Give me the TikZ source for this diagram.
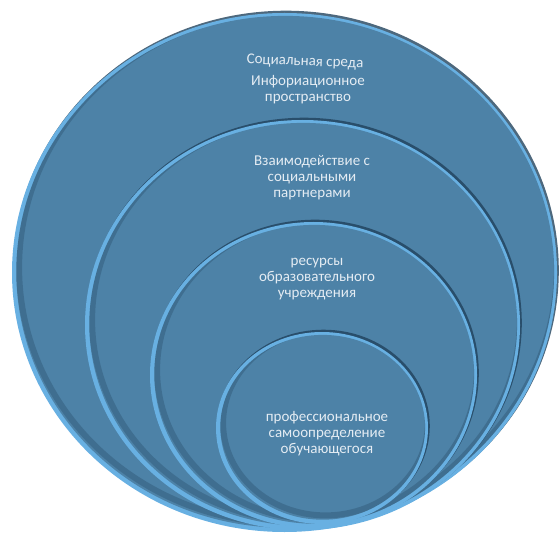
\documentclass[tikz,border=0pt]{standalone}
\usepackage{fontspec}
\setmainfont{Carlito}
\definecolor{basec}{RGB}{77,130,167}
\definecolor{rimc}{RGB}{104,176,226}
\definecolor{darkc}{RGB}{33,66,92}
\definecolor{txtc}{RGB}{228,236,243}
\newcommand\bevelEll[4]{%
  \fill[darkc,opacity=0.8] ({#1+1.5},{#2+2}) ellipse [x radius={(#3+0.3)*1pt}, y radius={(#4+0.3)*1pt}];
  \fill[rimc] (#1,#2) ellipse [x radius={#3*1pt}, y radius={#4*1pt}];
  \fill[basec] ({#1+0.7},{#2+0.7}) ellipse [x radius={(#3-3.6)*1pt}, y radius={(#4-3.6)*1pt}];
  \begin{scope}
    \clip ({#1+0.7},{#2+0.7}) ellipse [x radius={(#3-3.6)*1pt}, y radius={(#4-3.6)*1pt}];
    \draw[darkc,opacity=0.3,line width=6pt] ({#1+3.5},{#2+5}) ellipse [x radius={(#3-3.6)*1pt}, y radius={(#4-3.6)*1pt}];
  \end{scope}
}
\tikzset{lbl/.style={text=txtc, align=center, font=\fontsize{15}{16}\selectfont, inner sep=0pt}}
\begin{document}
\begin{tikzpicture}[x=1pt,y=1pt]
\useasboundingbox (0,0) rectangle (559,536);
\bevelEll{284.5}{263.5}{272.5}{259.5}
\bevelEll{302.5}{211}{217.5}{205}
\bevelEll{313.5}{161}{163.5}{153}
\bevelEll{322}{108}{106}{96}
\node[lbl, rotate=-2] (t1) at (305,474) {Социальная среда};
\node[lbl] (t2) at (308,446) {Инфориационное\\пространство};
\node[lbl] (t3) at (312,358) {Взаимодействие с\\социальными\\партнерами};
\node[lbl] (t4) at (317,257) {ресурсы\\образовательного\\учреждения};
\node[lbl] (t5) at (327,102) {профессиональное\\самоопределение\\обучающегося};
\end{tikzpicture}
\end{document}
